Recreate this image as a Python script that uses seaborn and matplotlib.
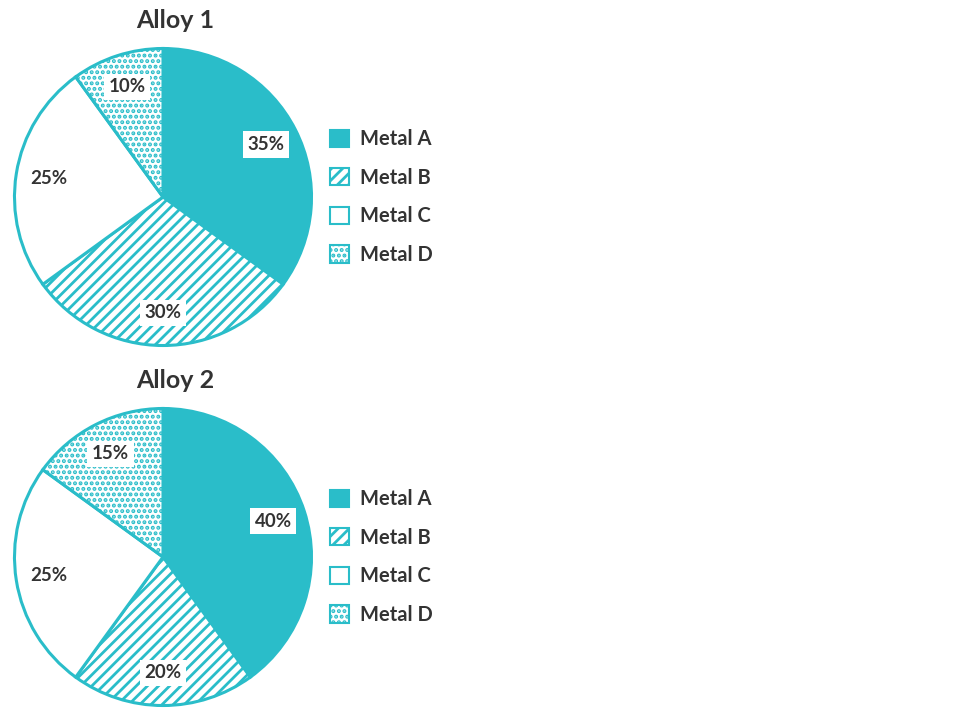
import matplotlib
matplotlib.use("Agg")
import matplotlib.pyplot as plt
from matplotlib.patches import Patch
import seaborn as sns

# data
metals = ["Metal A", "Metal B", "Metal C", "Metal D"]
alloy1_share = [35, 30, 25, 10]
alloy2_share = [40, 20, 25, 15]
alloy_titles = ["Alloy 1", "Alloy 2"]

TEAL = "#2abdc9"
TEXT = "#333333"
faces = [TEAL, "white", "white", "white"]
hatches = ["", "///", "", "..."]

sns.set_theme(style="white")
plt.rcParams["font.family"] = ["Lato", "DejaVu Sans"]
plt.rcParams["hatch.linewidth"] = 2.0

fig = plt.figure(figsize=(9.75, 7.15), dpi=100)
W, H = 975, 715


def draw_alloy(shares, title, cx, cy, r):
    """Pie centred at pixel (cx, cy) with radius r, plus title and legend."""
    ax = fig.add_axes([(cx - r) / W, (H - cy - r) / H, 2 * r / W, 2 * r / H])
    wedges, _, pcts = ax.pie(
        shares, colors=faces, startangle=90, counterclock=False,
        autopct=lambda p: f"{p:.0f}%", pctdistance=0.78,
        wedgeprops=dict(edgecolor=TEAL, linewidth=2.2),
    )
    for w, h in zip(wedges, hatches):
        w.set_hatch(h)
    for t in pcts:
        t.set(color=TEXT, fontsize=13.5, fontweight="bold")
        t.set_bbox(dict(boxstyle="square,pad=0.25", fc="white", ec="none"))
    ax.set_xlim(-1.01, 1.01)
    ax.set_ylim(-1.01, 1.01)
    ax.axis("off")

    # title sits a bit right of the pie centre, above the rim
    fig.text((cx + 12) / W, (H - (cy - r - 27)) / H, title,
             ha="center", va="center", fontsize=18, fontweight="bold", color=TEXT)

    handles = [Patch(facecolor=f, edgecolor=TEAL, hatch=h, linewidth=1.5)
               for f, h in zip(faces, hatches)]
    fig.legend(handles, metals, loc="center left",
               bbox_to_anchor=(330 / W, (H - cy) / H),
               frameon=False, borderpad=0, borderaxespad=0,
               handlelength=0.95, handleheight=0.95, handletextpad=0.55,
               labelspacing=0.92, labelcolor=TEXT,
               prop=dict(weight="bold", size=14.5))


draw_alloy(alloy1_share, alloy_titles[0], 163, 197, 150)
draw_alloy(alloy2_share, alloy_titles[1], 163, 557, 150)

fig.savefig("out.png", dpi=100, facecolor="white")
